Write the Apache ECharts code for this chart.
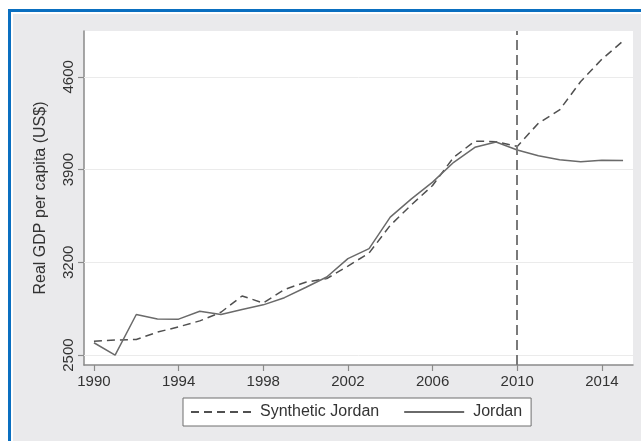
<!DOCTYPE html>
<html>
<head>
<meta charset="utf-8">
<script src="https://cdn.jsdelivr.net/npm/echarts@6/dist/echarts.min.js"></script>
<style>
html,body{margin:0;padding:0;background:#fff;width:641px;height:441px;overflow:hidden;}
#frame{position:absolute;left:8px;top:9px;width:700px;height:500px;border-left:3px solid #0a6fc0;border-top:3px solid #0a6fc0;}
#panel{position:absolute;left:13px;top:14px;width:700px;height:500px;background:#eaeaec;}
#chart{position:absolute;left:0;top:0;width:641px;height:441px;}
</style>
</head>
<body>
<div id="frame"></div>
<div id="panel"></div>
<div id="chart"></div>
<script>
const years = [1990,1991,1992,1993,1994,1995,1996,1997,1998,1999,2000,2001,2002,2003,2004,2005,2006,2007,2008,2009,2010,2011,2012,2013,2014,2015];
const jordan = [2593,2500,2806,2773,2771,2831,2806,2844,2879,2933,3010,3089,3228,3303,3541,3679,3805,3955,4068,4108,4048,4004,3974,3959,3971,3969];
const synthetic = [2605,2613,2618,2673,2713,2758,2823,2946,2893,2995,3050,3077,3172,3270,3479,3634,3780,3993,4115,4111,4075,4250,4350,4565,4733,4871];
const xTicks = [1990,1994,1998,2002,2006,2010,2014];
const yTicks = [2500,3200,3900,4600];
const treatmentYear = 2010;
const seriesNames = ['Synthetic Jordan','Jordan'];
const yTitle = 'Real GDP per capita (US$)';

const font = '"Liberation Sans", Arial, sans-serif';
const chart = echarts.init(document.getElementById('chart'));
chart.setOption({
  backgroundColor: 'transparent',
  animation: false,
  textStyle: {fontFamily: font},
  grid: {left: 84, top: 31, right: 8, bottom: 76, show: true, backgroundColor: '#ffffff', borderWidth: 0},
  xAxis: {
    type: 'value', min: 1989.53, max: 2015.47,
    axisLine: {show: true, lineStyle: {color: '#8a8a8a', width: 1.5}},
    axisTick: {show: true, length: 6, customValues: xTicks, lineStyle: {color: '#8a8a8a', width: 1.2}},
    axisLabel: {customValues: xTicks, formatter: v => String(v), fontSize: 15, color: '#333', margin: 9, fontFamily: font},
    splitLine: {show: false}
  },
  yAxis: {
    type: 'value', min: 2425, max: 4946,
    name: yTitle, nameLocation: 'middle', nameGap: 35, nameRotate: 90,
    nameTextStyle: {fontSize: 16, color: '#333', fontFamily: font},
    axisLine: {show: true, lineStyle: {color: '#8a8a8a', width: 1.5}},
    axisTick: {show: true, length: 6, customValues: yTicks, lineStyle: {color: '#8a8a8a', width: 1.2}},
    axisLabel: {customValues: yTicks, formatter: v => String(v), rotate: 90, fontSize: 15, color: '#333', margin: 8, fontFamily: font},
    splitLine: {show: false}
  },
  legend: {
    left: 183, top: 398,
    data: seriesNames,
    backgroundColor: '#ffffff', borderColor: '#6f6f6f', borderWidth: 1,
    padding: [6, 9, 6, 7], itemWidth: 60, itemHeight: 15, itemGap: 24,
    itemStyle: {opacity: 0},
    textStyle: {fontSize: 16, color: '#333', fontFamily: font, padding: [0, 0, 0, 4]}
  },
  series: [
    {
      name: seriesNames[0], type: 'line', symbol: 'none',
      data: years.map((y, i) => [y, synthetic[i]]),
      lineStyle: {color: '#505050', width: 1.5, type: [8, 5]},
      itemStyle: {color: '#505050'},
      z: 3,
      markLine: {
        silent: true, symbol: 'none', label: {show: false},
        lineStyle: {color: '#7a7a7a', width: 2, type: [10, 5]},
        data: [{xAxis: treatmentYear}]
      }
    },
    {
      name: seriesNames[1], type: 'line', symbol: 'none',
      data: years.map((y, i) => [y, jordan[i]]),
      lineStyle: {color: '#6a6a6a', width: 1.5, type: 'solid'},
      itemStyle: {color: '#6a6a6a'},
      z: 3,
      markLine: {
        silent: true, symbol: 'none', label: {show: false}, z: 1,
        lineStyle: {color: '#ebebeb', width: 1, type: 'solid'},
        data: yTicks.map(v => ({yAxis: v}))
      }
    }
  ]
});
</script>
</body>
</html>
